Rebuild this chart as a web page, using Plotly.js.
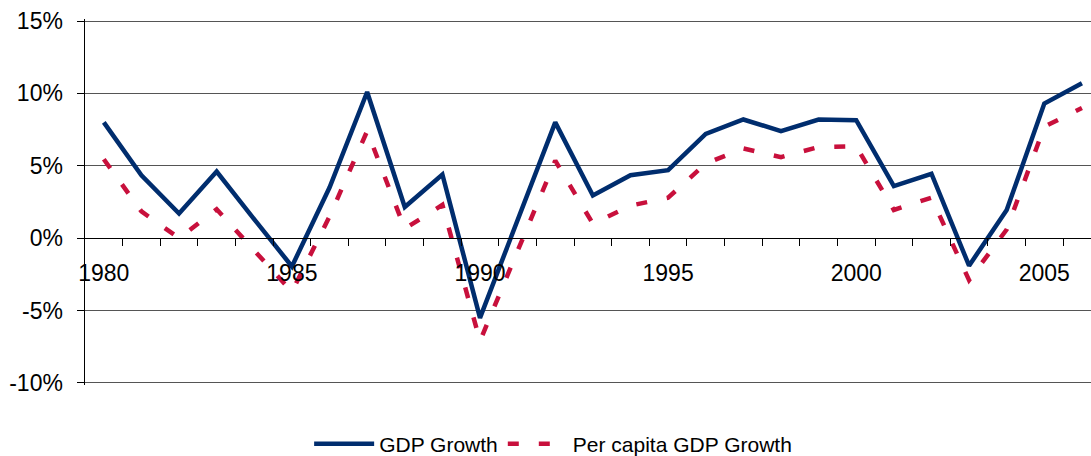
<!DOCTYPE html>
<html>
<head>
<meta charset="utf-8">
<script src="https://cdn.plot.ly/plotly-3.0.1.min.js"></script>
<style>
html,body{margin:0;padding:0;background:#fff;}
#chart{width:1091px;height:456px;}
</style>
</head>
<body>
<div id="chart"></div>
<script>
// Data (annual growth, %)
var years = [1980,1981,1982,1983,1984,1985,1986,1987,1988,1989,1990,1991,1992,1993,1994,1995,1996,1997,1998,1999,2000,2001,2002,2003,2004,2005,2006];
var gdpGrowth = [8.0,4.35,1.7,4.6,1.3,-1.95,3.5,10.1,2.15,4.4,-5.5,1.2,8.0,2.95,4.35,4.7,7.2,8.2,7.4,8.2,8.15,3.6,4.45,-1.9,1.95,9.3,10.7];
var perCapitaGrowth = [5.45,1.85,0.0,2.0,-0.85,-3.7,1.5,7.4,0.65,2.3,-7.1,-0.9,5.35,1.0,2.25,2.8,5.15,6.2,5.6,6.3,6.35,1.95,2.8,-2.9,0.6,7.7,9.0];
var xTickLabels = [1980,1985,1990,1995,2000,2005];
var yTickValues = [-10,-5,0,5,10,15];
var seriesNames = ['GDP Growth','Per capita GDP Growth'];

var yMin = -10, yMax = 15, yPad = 0.14;
var font = 'Liberation Sans, Arial, sans-serif';

var traces = [
  {x: years, y: gdpGrowth, name: seriesNames[0], type: 'scatter', mode: 'lines',
   line: {color: '#002D6E', width: 4.5}},
  {x: years, y: perCapitaGrowth, name: seriesNames[1], type: 'scatter', mode: 'lines',
   line: {color: '#C8103C', width: 4.5, dash: '11px,20px'}}
];

var layout = {
  width: 1091, height: 456,
  margin: {l: 85, r: 0, t: 19, b: 71, pad: 0},
  paper_bgcolor: '#fff', plot_bgcolor: '#fff',
  font: {family: font, size: 23, color: '#000'},
  showlegend: true,
  legend: {orientation: 'h', xref: 'container', yref: 'container', x: 0.507, y: 0.026,
           xanchor: 'center', yanchor: 'middle', font: {family: font, size: 21, color: '#000'},
           itemwidth: 60, tracegroupgap: 0},
  xaxis: {
    range: [years[0] - 0.5, years[0] - 0.5 + 1006 / 37.62],
    anchor: 'free', position: (0 - (yMin - yPad)) / ((yMax + yPad) - (yMin - yPad)),
    tickmode: 'array', tickvals: xTickLabels, ticktext: xTickLabels.map(String),
    ticks: '', showgrid: false, zeroline: false,
    showline: true, linecolor: '#000', linewidth: 1,
    ticklabelstandoff: 14,
    tickfont: {family: font, size: 23, color: '#000'},
    minor: {tickmode: 'array', tickvals: years.map(function(y){return y + 0.5;}),
            ticks: 'outside', ticklen: 7, tickwidth: 1, tickcolor: '#000', showgrid: false}
  },
  yaxis: {
    range: [yMin - yPad, yMax + yPad],
    tickmode: 'array', tickvals: yTickValues,
    ticktext: yTickValues.map(function(v){return String(v) + '%';}),
    ticks: 'outside', ticklen: 7, tickwidth: 1, tickcolor: '#000',
    showline: true, linecolor: '#000', linewidth: 1.5,
    showgrid: true, gridcolor: '#555', gridwidth: 1, zeroline: false,
    ticklabelstandoff: 9,
    tickfont: {family: font, size: 23, color: '#000'}
  }
};

Plotly.newPlot('chart', traces, layout, {staticPlot: true, displayModeBar: false});
</script>
</body>
</html>
